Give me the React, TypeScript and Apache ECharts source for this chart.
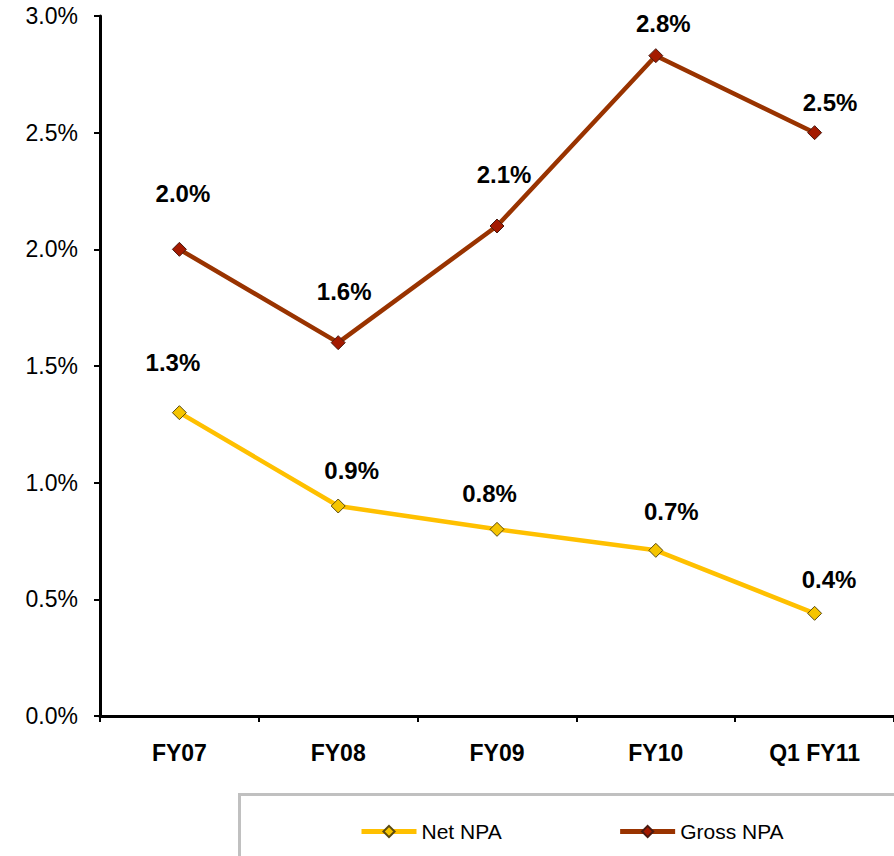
import React, { useEffect, useRef } from "react";
import * as echarts from "echarts";

const categories = ["FY07", "FY08", "FY09", "FY10", "Q1 FY11"];
const netNPA = [1.3, 0.9, 0.8, 0.71, 0.44];
const grossNPA = [2.0, 1.6, 2.1, 2.83, 2.5];
const yTicks = [0, 0.5, 1.0, 1.5, 2.0, 2.5, 3.0];

export default function App() {
  const ref = useRef<HTMLDivElement>(null);
  useEffect(() => {
    if (!ref.current) return;
    const chart = echarts.init(ref.current, null, { renderer: "svg" });
    const font = "'Liberation Sans', Arial, sans-serif";
    // label offsets (label centre relative to marker), layout only
    const netLabelOffsets = [[-6.5, -50], [13.5, -35.5], [-7.5, -35.5], [15.5, -38.5], [14.5, -33.5]];
    const grossLabelOffsets = [[3.5, -55.5], [6, -51.5], [7, -51.5], [7.5, -32], [15.5, -30.5]];
    const baseLabel = {
      show: true,
      position: "inside",
      fontFamily: font,
      fontWeight: "bold",
      fontSize: 24,
      color: "#000",
      formatter: (p: any) => Number(p.value).toFixed(1) + "%",
    };
    const build = (vals: number[], offs: number[][]) =>
      vals.map((v, i) => ({ value: v, label: { offset: offs[i] } }));
    chart.setOption({
      animation: false,
      backgroundColor: "#fff",
      grid: { left: 100, right: 0, top: 16, bottom: 140 },
      graphic: [
        {
          type: "rect",
          shape: { x: 239.5, y: 794.5, width: 700, height: 100 },
          style: { fill: "#fff", stroke: "#c0c0c0", lineWidth: 3 },
          z: -1,
        },
      ],
      legend: {
        left: 354,
        top: 816,
        itemGap: 116,
        itemWidth: 55,
        itemHeight: 14,
        lineStyle: { width: 5 },
        textStyle: { fontFamily: font, fontSize: 21, color: "#000" },
        data: ["Net NPA", "Gross NPA"],
      },
      xAxis: {
        type: "category",
        data: categories,
        boundaryGap: true,
        axisLine: { lineStyle: { color: "#000", width: 3 } },
        axisTick: { show: true, length: 6, lineStyle: { color: "#000", width: 2 } },
        axisLabel: {
          fontFamily: font,
          fontWeight: "bold",
          fontSize: 23,
          color: "#000",
          margin: 25,
        },
      },
      yAxis: {
        type: "value",
        min: 0,
        max: 3,
        interval: 0.5,
        axisLine: { show: true, lineStyle: { color: "#000", width: 3 } },
        axisTick: { show: true, length: 6, lineStyle: { color: "#000", width: 2 } },
        splitLine: { show: false },
        axisLabel: {
          fontFamily: font,
          fontSize: 23,
          color: "#000",
          margin: 22,
          formatter: (v: number) => (yTicks.includes(v) ? v.toFixed(1) + "%" : ""),
        },
      },
      series: [
        {
          name: "Net NPA",
          type: "line",
          data: build(netNPA, netLabelOffsets),
          symbol: "diamond",
          symbolSize: 14,
          lineStyle: { color: "#FFC000", width: 4.5 },
          itemStyle: { color: "#F5C400", borderColor: "#5a4a10", borderWidth: 1 },
          label: baseLabel,
        },
        {
          name: "Gross NPA",
          type: "line",
          data: build(grossNPA, grossLabelOffsets),
          symbol: "diamond",
          symbolSize: 14,
          lineStyle: { color: "#993300", width: 4.5 },
          itemStyle: { color: "#A41A00", borderColor: "#4a1a10", borderWidth: 1 },
          label: baseLabel,
        },
      ],
    });
    return () => chart.dispose();
  }, []);
  return <div ref={ref} style={{ width: 894, height: 856, position: "absolute", left: 0, top: 0 }} />;
}
